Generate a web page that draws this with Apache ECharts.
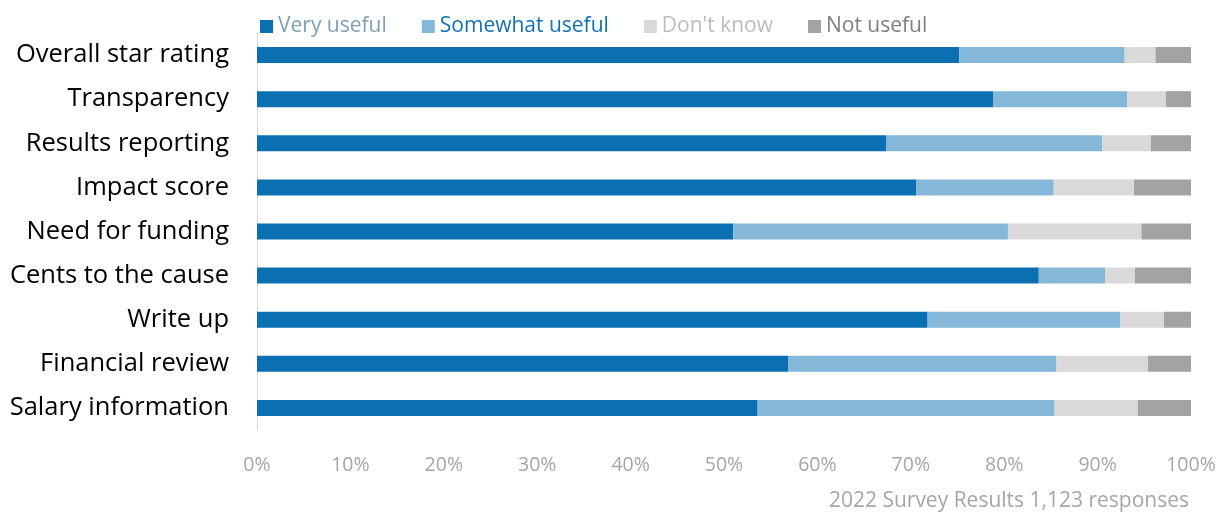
<!DOCTYPE html>
<html>
<head>
<meta charset="utf-8">
<script src="https://cdn.jsdelivr.net/npm/echarts@6/dist/echarts.min.js"></script>
<style>
    html, body { margin: 0; padding: 0; background: #fff; }
    #chart { width: 1231px; height: 512px; }
</style>
</head>
<body>
<div id="chart"></div>
<script>
    // categories, top to bottom
    var categories = ['Overall star rating', 'Transparency', 'Results reporting', 'Impact score',
        'Need for funding', 'Cents to the cause', 'Write up', 'Financial review', 'Salary information'];

    // percent of responses
    var veryUseful     = [75.2, 78.8, 67.4, 70.6, 51.0, 83.7, 71.8, 56.9, 53.6];
    var somewhatUseful = [17.7, 14.4, 23.1, 14.7, 29.4, 7.1, 20.6, 28.7, 31.8];
    var dontKnow       = [3.3, 4.1, 5.2, 8.6, 14.3, 3.2, 4.7, 9.8, 8.9];
    var notUseful      = [3.8, 2.7, 4.3, 6.1, 5.3, 6.0, 2.9, 4.6, 5.7];

    var seriesNames = ['Very useful', 'Somewhat useful', "Don't know", 'Not useful'];
    var colors = ['#0b70b2', '#84b7d8', '#d9d9d9', '#a3a3a3'];
    var legendText = ['#7f9fb8', '#1070b8', '#bdbdbd', '#7f7f7f'];
    var values = [veryUseful, somewhatUseful, dontKnow, notUseful];

    var font = '"Open Sans", sans-serif';

    var chart = echarts.init(document.getElementById('chart'));
    var option = {
        animation: false,
        textStyle: {fontFamily: font},
        title: {
            text: '2022 Survey Results 1,123 responses',
            right: 37,
            top: 486,
            textStyle: {fontSize: 21, fontWeight: 'normal', color: '#a6a6a6', fontFamily: font}
        },
        legend: {
            top: 11,
            left: 255,
            itemWidth: 13,
            itemHeight: 13,
            itemGap: 35,
            icon: 'rect',
            textStyle: {fontSize: 21, fontFamily: font},
            data: seriesNames.map(function (n, i) {
                return {name: n, textStyle: {color: legendText[i]}};
            })
        },
        grid: {left: 257, right: 40, top: 33, bottom: 82},
        xAxis: {
            type: 'value',
            min: 0,
            max: 100,
            interval: 10,
            axisLine: {show: false},
            axisTick: {show: false},
            splitLine: {show: false},
            axisLabel: {
                formatter: '{value}%',
                color: '#a6a6a6',
                fontSize: 19.5,
                margin: 25,
                fontFamily: font
            }
        },
        yAxis: {
            type: 'category',
            inverse: true,
            data: categories,
            axisLine: {show: true, lineStyle: {color: '#d9d9d9', width: 1}},
            axisTick: {show: false},
            axisLabel: {color: '#000', fontSize: 25.5, margin: 28, fontFamily: font, padding: [6, 0, 0, 0]}
        },
        series: seriesNames.map(function (n, i) {
            return {
                name: n,
                type: 'bar',
                stack: 'total',
                barWidth: 16,
                itemStyle: {color: colors[i]},
                data: values[i]
            };
        })
    };
    chart.setOption(option);
</script>
</body>
</html>
